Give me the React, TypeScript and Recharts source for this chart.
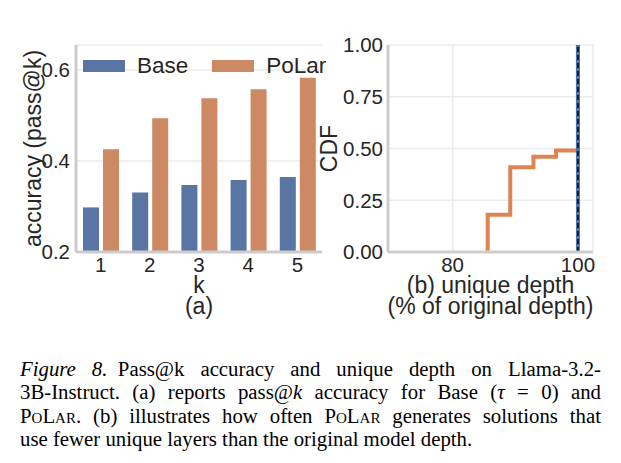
import {
  BarChart,
  Bar,
  XAxis,
  YAxis,
  CartesianGrid,
  Label,
  LineChart,
  Line,
  ReferenceLine,
} from "recharts";

// (a) pass@k accuracy
const kValues = ["1", "2", "3", "4", "5"];
const baseAccuracy = [0.298, 0.331, 0.347, 0.358, 0.365];
const polarAccuracy = [0.426, 0.494, 0.538, 0.558, 0.583];
const accuracyTicks = [0.2, 0.4, 0.6];

// (b) CDF of unique depth (% of original depth)
const polarDepth = [85.6, 85.6, 89.2, 92.9, 96.5, 100];
const polarCdf = [0, 0.18, 0.41, 0.46, 0.49, 1.0];
const baseDepth = [100, 100];
const baseCdf = [0, 1];
const cdfTicks = [0, 0.25, 0.5, 0.75, 1.0];
const depthTicks = [80, 100];

const BLUE_BAR = "#5875a4";
const ORANGE_BAR = "#cc8963";
const BLUE_LINE = "#4c72b0";
const ORANGE_LINE = "#dd8452";
const TEXT = "#262626";
const SPINE = "#cccccc";
const GRID = "#ebebeb";
const SANS = "'Liberation Sans', Arial, sans-serif";

const tickStyle = { fill: TEXT, fontSize: 20.5, fontFamily: SANS };
const labelStyle = { fill: TEXT, fontSize: 23, fontFamily: SANS, textAnchor: "middle" as const };

const accData = kValues.map((k, i) => ({ k, base: baseAccuracy[i], polar: polarAccuracy[i] }));
const polarPoints = polarDepth.map((x, i) => ({ x, y: polarCdf[i] }));
const basePoints = baseDepth.map((x, i) => ({ x, y: baseCdf[i] }));

const Swatch = ({ color }: { color: string }) => (
  <span style={{ display: "inline-block", width: 42, height: 12, background: color, marginRight: 12 }} />
);

const justified = { textAlign: "justify" as const, textAlignLast: "justify" as const };

export default function App() {
  return (
    <div
      style={{
        position: "absolute",
        left: 0,
        top: 0,
        width: 621,
        height: 463,
        background: "#fff",
        overflow: "hidden",
      }}
    >
      <div style={{ position: "absolute", left: 0, top: 0 }}>
        <BarChart
          width={330}
          height={330}
          data={accData}
          margin={{ top: 45, right: 8, bottom: 0, left: 0 }}
          barSize={16}
          barGap={4}
        >
          <CartesianGrid vertical={false} stroke={GRID} strokeWidth={1.5} />
          <XAxis
            dataKey="k"
            height={78}
            tickLine={false}
            tickSize={3}
            tickMargin={2}
            axisLine={{ stroke: SPINE, strokeWidth: 3 }}
            tick={tickStyle}
          >
            <Label value="k" position="insideBottom" offset={37} style={labelStyle} />
            <Label value="(a)" position="insideBottom" offset={16} style={labelStyle} />
          </XAxis>
          <YAxis
            width={76}
            domain={[0.2, 0.655]}
            allowDataOverflow
            ticks={accuracyTicks}
            tickFormatter={(v) => v.toFixed(1)}
            tickLine={false}
            tickSize={4}
            tickMargin={2}
            axisLine={{ stroke: SPINE, strokeWidth: 3 }}
            tick={tickStyle}
          >
            <Label value="accuracy (pass@k)" angle={-90} position="insideLeft" offset={33} style={labelStyle} />
          </YAxis>
          <Bar dataKey="base" fill={BLUE_BAR} isAnimationActive={false} />
          <Bar dataKey="polar" fill={ORANGE_BAR} isAnimationActive={false} />
        </BarChart>
      </div>

      <div
        style={{
          position: "absolute",
          left: 83,
          top: 54,
          display: "flex",
          alignItems: "center",
          fontFamily: SANS,
          fontSize: 22.5,
          lineHeight: "24px",
          color: TEXT,
          whiteSpace: "nowrap",
        }}
      >
        <Swatch color={BLUE_BAR} />
        <span style={{ marginRight: 24 }}>Base</span>
        <Swatch color={ORANGE_BAR} />
        <span>PoLar</span>
      </div>

      <div style={{ position: "absolute", left: 300, top: 0 }}>
        <LineChart width={320} height={330} margin={{ top: 45, right: 27, bottom: 0, left: 20 }}>
          <CartesianGrid stroke={GRID} strokeWidth={1.5} />
          <XAxis
            type="number"
            dataKey="x"
            domain={[69.7, 102.4]}
            allowDataOverflow
            ticks={depthTicks}
            height={78}
            tickLine={false}
            tickSize={3}
            tickMargin={2}
            axisLine={{ stroke: SPINE, strokeWidth: 3 }}
            tick={tickStyle}
          >
            <Label value="(b) unique depth" position="insideBottom" offset={37} style={labelStyle} />
            <Label value="(% of original depth)" position="insideBottom" offset={16} style={labelStyle} />
          </XAxis>
          <YAxis
            type="number"
            dataKey="y"
            width={68}
            domain={[0, 1]}
            allowDataOverflow
            ticks={cdfTicks}
            tickFormatter={(v) => v.toFixed(2)}
            tickLine={false}
            tickSize={3}
            tickMargin={2}
            axisLine={{ stroke: SPINE, strokeWidth: 3 }}
            tick={tickStyle}
          >
            <Label value="CDF" angle={-90} position="insideLeft" offset={9} style={labelStyle} />
          </YAxis>
          <Line
            data={polarPoints}
            dataKey="y"
            type="stepAfter"
            stroke={ORANGE_LINE}
            strokeWidth={4}
            dot={false}
            isAnimationActive={false}
          />
          <Line
            data={basePoints}
            dataKey="y"
            type="linear"
            stroke={BLUE_LINE}
            strokeWidth={4}
            dot={false}
            isAnimationActive={false}
          />
          <ReferenceLine x={100} stroke="#1a1a1a" strokeWidth={2} strokeDasharray="5 3" />
        </LineChart>
      </div>

      <div
        style={{
          position: "absolute",
          left: 20,
          top: 357,
          width: 581,
          fontFamily: "'Liberation Serif', 'Times New Roman', serif",
          fontSize: 20.8,
          lineHeight: "23.3px",
          color: "#000",
        }}
      >
        <div style={justified}>
          <i>Figure 8.</i>&ensp;Pass@k accuracy and unique depth on Llama-3.2-
        </div>
        <div style={justified}>
          3B-Instruct. (a) reports pass@<i>k</i> accuracy for Base (<i>τ</i> = 0) and
        </div>
        <div style={justified}>
          <span style={{ fontVariant: "small-caps" }}>PoLar</span>. (b) illustrates how often{" "}
          <span style={{ fontVariant: "small-caps" }}>PoLar</span> generates solutions that
        </div>
        <div>use fewer unique layers than the original model depth.</div>
      </div>
    </div>
  );
}
